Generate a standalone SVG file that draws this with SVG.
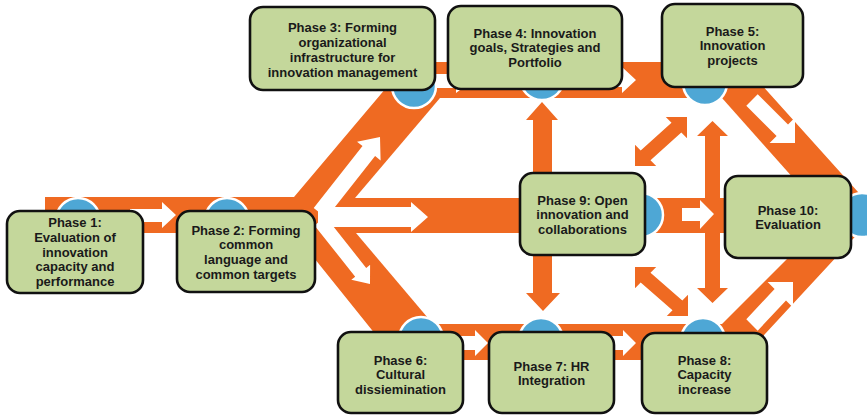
<svg xmlns="http://www.w3.org/2000/svg" width="867" height="415" viewBox="0 0 867 415">
  <defs>
    <style>
      .band { fill: #ef6a22; }
      .hole { fill: #ffffff; }
      .flow { fill: #ffffff; }
      .link { fill: #ef6a22; }
      .dot { fill: #4ea7d5; stroke: #ffffff; stroke-width: 2.5; }
      .box { fill: #c4d79b; stroke: #111111; stroke-width: 2.6; }
      .label { font-family: "Liberation Sans", Arial, sans-serif; font-weight: bold; font-size: 13px; fill: #1a1a1a; text-anchor: middle; }
    </style>
  </defs>
  <rect width="867" height="415" fill="#ffffff"/>

  <!-- process track: entry lane, fork, upper and lower routes, central lane -->
  <g id="track">
    <polygon class="band" points="45,197 294,197 408,62 741,62 877,213 741,360 396,360 294,233 45,233"/>
    <polygon class="hole" points="355,198 440,98 722,98 811,198"/>
    <polygon class="hole" points="356,233 433,324 722,324 813,233"/>
  </g>

  <!-- direction markers on the track -->
  <g id="flow-markers">
    <polygon class="flow" points="130,209 162,209 162,202 176,215 162,228 162,222 130,222"/>
    <polygon class="flow" points="313.7,208 362.5,146.1 357,141.8 380,137 380.6,160.4 375.1,156.1 326.3,218"/>
    <polygon class="flow" points="318,207 411,207 411,202 428,217 411,232 411,227 318,227"/>
    <polygon class="flow" points="325.5,216.6 366.2,267.9 370.1,264.8 370,284 351.3,279.8 355.2,276.7 314.5,225.4"/>
    <polygon class="flow" points="425,74 456,74 456,68 472,81 456,93 456,88 425,88"/>
    <polygon class="flow" points="600,73 622,73 622,67 636,80 622,93 622,87 600,87"/>
    <polygon class="flow" points="440,336 475,336 475,330 488,343 475,356 475,350 440,350"/>
    <polygon class="flow" points="600,336 623,336 623,330 636,343 623,356 623,350 600,350"/>
    <polygon class="flow" points="757.7,94.3 788,124.6 795,117.6 795,143 769.6,143 776.6,136 746.3,105.7"/>
    <polygon class="flow" points="757.7,330.7 786,300.4 793,307.4 793,282 767.6,282 774.6,289 746.3,319.3"/>
  </g>

  <!-- connectors between Phase 9 and the outer phases -->
  <g id="connectors">
    <polygon class="link" points="533,176 533,120 526,120 542,102 558,120 552,120 552,176"/>
    <polygon class="link" points="533,252 533,293 526,293 543,311 560,293 552,293 552,252"/>
    <polygon class="link" points="705,136 697,136 712.5,121 728,136 720,136 720,288 728,288 712.5,303 697,288 705,288"/>
    <polygon class="link" points="635,166 635,144.8 640.7,150.5 671.5,122.7 665.8,117 687,117 687,138.2 681.3,132.5 650.5,160.3 656.2,166"/>
    <polygon class="link" points="635,267 656.2,267 650.5,272.7 682.3,300.5 688,294.8 688,316 666.8,316 672.5,310.3 640.7,282.5 635,288.2"/>
  </g>

  <!-- phase markers on the track -->
  <g id="markers">
    <circle class="dot" cx="78" cy="220" r="22"/>
    <circle class="dot" cx="227" cy="220" r="22"/>
    <circle class="dot" cx="414" cy="86" r="22"/>
    <circle class="dot" cx="542" cy="78" r="22"/>
    <circle class="dot" cx="705" cy="83" r="22"/>
    <circle class="dot" cx="641" cy="215" r="22"/>
    <circle class="dot" cx="862" cy="215" r="22"/>
    <circle class="dot" cx="421" cy="339" r="22"/>
    <circle class="dot" cx="541" cy="340" r="22"/>
    <circle class="dot" cx="703" cy="340" r="22"/>
  </g>

  <polygon class="flow" points="682,208 700,208 700,200 714,214 700,229 700,221 682,221"/>

  <g id="phase1">
    <rect class="box" x="7" y="211" width="136" height="82" rx="13"/>
    <text class="label" x="75" y="227">Phase 1:<tspan x="75" dy="14.75">Evaluation of</tspan><tspan x="75" dy="14.75">innovation</tspan><tspan x="75" dy="14.75">capacity and</tspan><tspan x="75" dy="14.75">performance</tspan></text>
  </g>
  <g id="phase2">
    <rect class="box" x="177" y="211" width="138" height="81" rx="13"/>
    <text class="label" x="246" y="234.5">Phase 2: Forming<tspan x="246" dy="14.75">common</tspan><tspan x="246" dy="14.75">language and</tspan><tspan x="246" dy="14.75">common targets</tspan></text>
  </g>
  <g id="phase3">
    <rect class="box" x="250" y="7" width="185" height="83" rx="13"/>
    <text class="label" x="342.5" y="31.5">Phase 3: Forming<tspan x="342.5" dy="15">organizational</tspan><tspan x="342.5" dy="15">infrastructure for</tspan><tspan x="342.5" dy="15">innovation management</tspan></text>
  </g>
  <g id="phase4">
    <rect class="box" x="448" y="6" width="174" height="83" rx="13"/>
    <text class="label" x="535" y="37.5">Phase 4: Innovation<tspan x="535" dy="14.75">goals, Strategies and</tspan><tspan x="535" dy="14.75">Portfolio</tspan></text>
  </g>
  <g id="phase5">
    <rect class="box" x="662" y="4" width="141" height="83" rx="13"/>
    <text class="label" x="732.5" y="35.5">Phase 5:<tspan x="732.5" dy="14.5">Innovation</tspan><tspan x="732.5" dy="14.5">projects</tspan></text>
  </g>
  <g id="phase9">
    <rect class="box" x="520" y="173" width="125" height="82" rx="13"/>
    <text class="label" x="582.5" y="204.5">Phase 9: Open<tspan x="582.5" dy="14.5">innovation and</tspan><tspan x="582.5" dy="14.5">collaborations</tspan></text>
  </g>
  <g id="phase10">
    <rect class="box" x="725" y="176" width="126" height="82" rx="13"/>
    <text class="label" x="788" y="214.5">Phase 10:<tspan x="788" dy="14.5">Evaluation</tspan></text>
  </g>
  <g id="phase6">
    <rect class="box" x="338" y="332" width="125" height="81" rx="13"/>
    <text class="label" x="400.5" y="364.5">Phase 6:<tspan x="400.5" dy="14.5">Cultural</tspan><tspan x="400.5" dy="14.5">dissiemination</tspan></text>
  </g>
  <g id="phase7">
    <rect class="box" x="489" y="332" width="125" height="81" rx="13"/>
    <text class="label" x="551.5" y="370.5">Phase 7: HR<tspan x="551.5" dy="14.5">Integration</tspan></text>
  </g>
  <g id="phase8">
    <rect class="box" x="642" y="333" width="125" height="80" rx="13"/>
    <text class="label" x="704.5" y="364.5">Phase 8:<tspan x="704.5" dy="14.75">Capacity</tspan><tspan x="704.5" dy="14.75">increase</tspan></text>
  </g>
</svg>
